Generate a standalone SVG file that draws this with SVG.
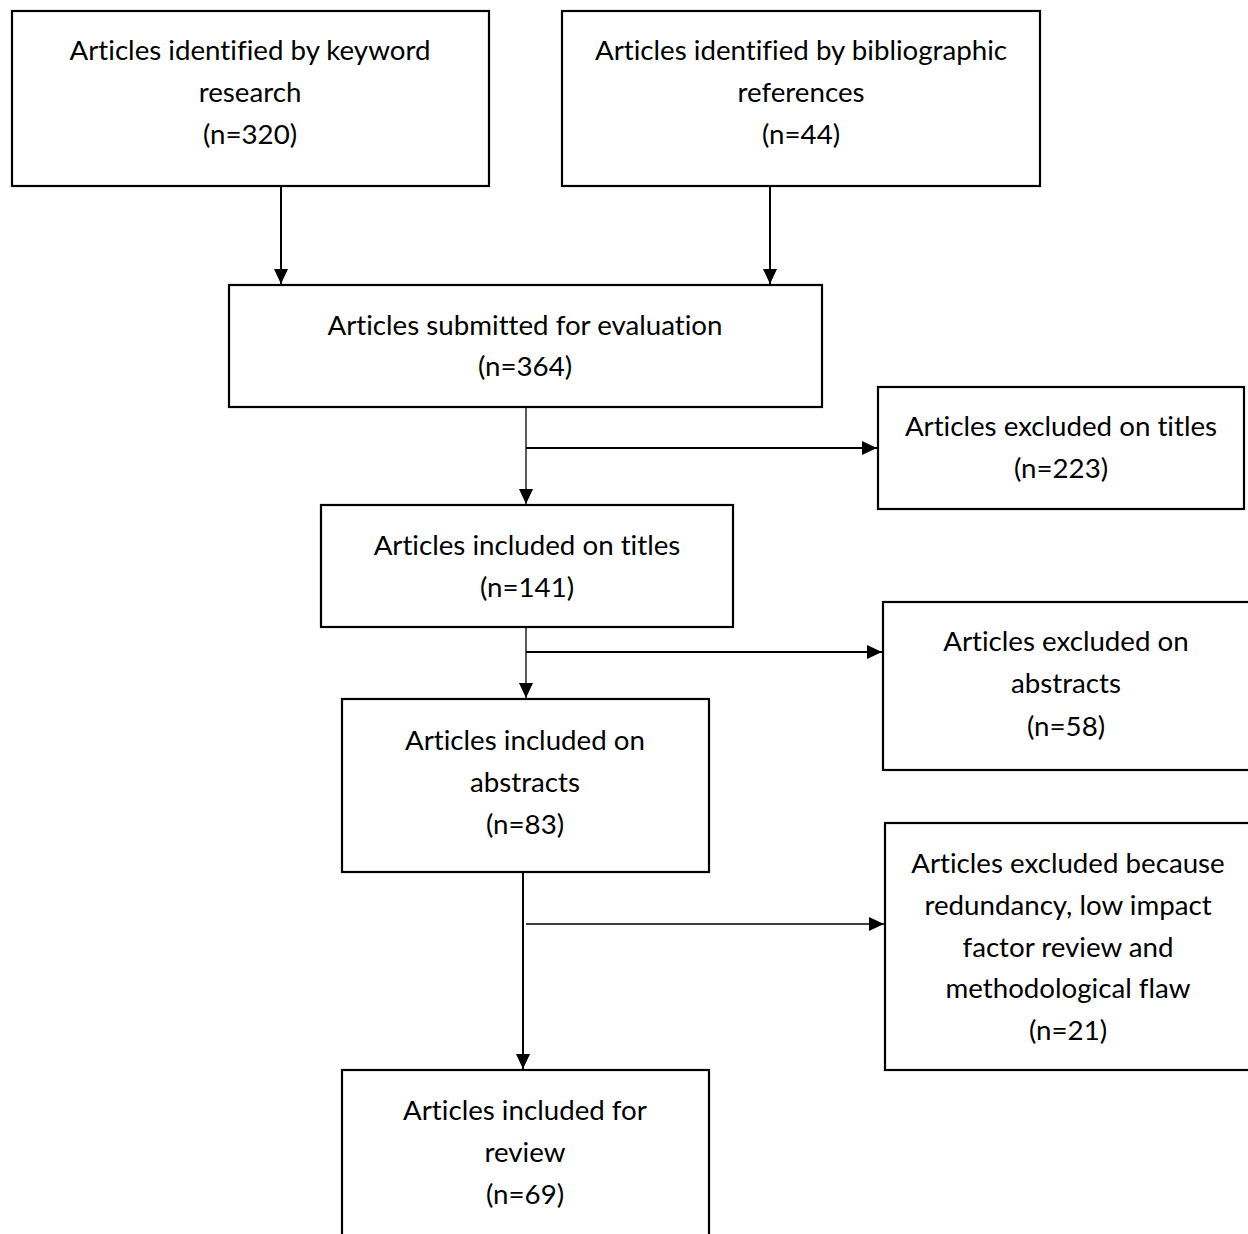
<svg xmlns="http://www.w3.org/2000/svg" width="1248" height="1234" viewBox="0 0 1248 1234">
<style>
.box{fill:#fff;stroke:#000;stroke-width:2.2}
.t{font-family:Lato,"Liberation Sans",sans-serif;font-size:27.7px;fill:#000;text-anchor:middle;font-variant-ligatures:none}
.c{stroke:#000;stroke-width:2;fill:none}
.c1{stroke:#000;stroke-width:1.3;fill:none}
</style>
<defs>
<marker id="ah" markerWidth="16" markerHeight="16" refX="15" refY="8" orient="auto" markerUnits="userSpaceOnUse">
<path d="M0,1 L15,8 L0,15 Z" fill="#000"/>
</marker>
</defs>
<rect width="1248" height="1234" fill="#fff"/>
<g id="connectors">
<line class="c" x1="281" y1="186" x2="281" y2="284" marker-end="url(#ah)"/>
<line class="c" x1="770" y1="186" x2="770" y2="284" marker-end="url(#ah)"/>
<line class="c1" x1="526" y1="407" x2="526" y2="504" marker-end="url(#ah)"/>
<line class="c" x1="526" y1="448" x2="877" y2="448" marker-end="url(#ah)"/>
<line class="c1" x1="526" y1="627" x2="526" y2="698" marker-end="url(#ah)"/>
<line class="c" x1="526" y1="652" x2="882" y2="652" marker-end="url(#ah)"/>
<line class="c" x1="523" y1="872" x2="523" y2="1069" marker-end="url(#ah)"/>
<line class="c1" x1="526" y1="924" x2="884" y2="924" marker-end="url(#ah)"/>
</g>
<g id="n1"><rect class="box" x="12" y="11" width="477" height="175"/>
<text class="t" x="250" y="60">Articles identified by keyword</text>
<text class="t" x="250" y="102">research</text>
<text class="t" x="250" y="144">(n=320)</text></g>
<g id="n2"><rect class="box" x="562" y="11" width="478" height="175"/>
<text class="t" x="801" y="60">Articles identified by bibliographic</text>
<text class="t" x="801" y="102">references</text>
<text class="t" x="801" y="144">(n=44)</text></g>
<g id="n3"><rect class="box" x="229" y="285" width="593" height="122"/>
<text class="t" x="525" y="335">Articles submitted for evaluation</text>
<text class="t" x="525" y="376">(n=364)</text></g>
<g id="n4"><rect class="box" x="878" y="387" width="366" height="122"/>
<text class="t" x="1061" y="436">Articles excluded on titles</text>
<text class="t" x="1061" y="478">(n=223)</text></g>
<g id="n5"><rect class="box" x="321" y="505" width="412" height="122"/>
<text class="t" x="527" y="555">Articles included on titles</text>
<text class="t" x="527" y="597">(n=141)</text></g>
<g id="n6"><rect class="box" x="883" y="602" width="380" height="168"/>
<text class="t" x="1066" y="651">Articles excluded on</text>
<text class="t" x="1066" y="693">abstracts</text>
<text class="t" x="1066" y="736">(n=58)</text></g>
<g id="n7"><rect class="box" x="342" y="699" width="367" height="173"/>
<text class="t" x="525" y="750">Articles included on</text>
<text class="t" x="525" y="792">abstracts</text>
<text class="t" x="525" y="834">(n=83)</text></g>
<g id="n8"><rect class="box" x="885" y="823" width="380" height="247"/>
<text class="t" x="1068" y="873">Articles excluded because</text>
<text class="t" x="1068" y="915">redundancy, low impact</text>
<text class="t" x="1068" y="957">factor review and</text>
<text class="t" x="1068" y="998">methodological flaw</text>
<text class="t" x="1068" y="1040">(n=21)</text></g>
<g id="n9"><rect class="box" x="342" y="1070" width="367" height="180"/>
<text class="t" x="525" y="1120">Articles included for</text>
<text class="t" x="525" y="1162">review</text>
<text class="t" x="525" y="1204">(n=69)</text></g>
</svg>
